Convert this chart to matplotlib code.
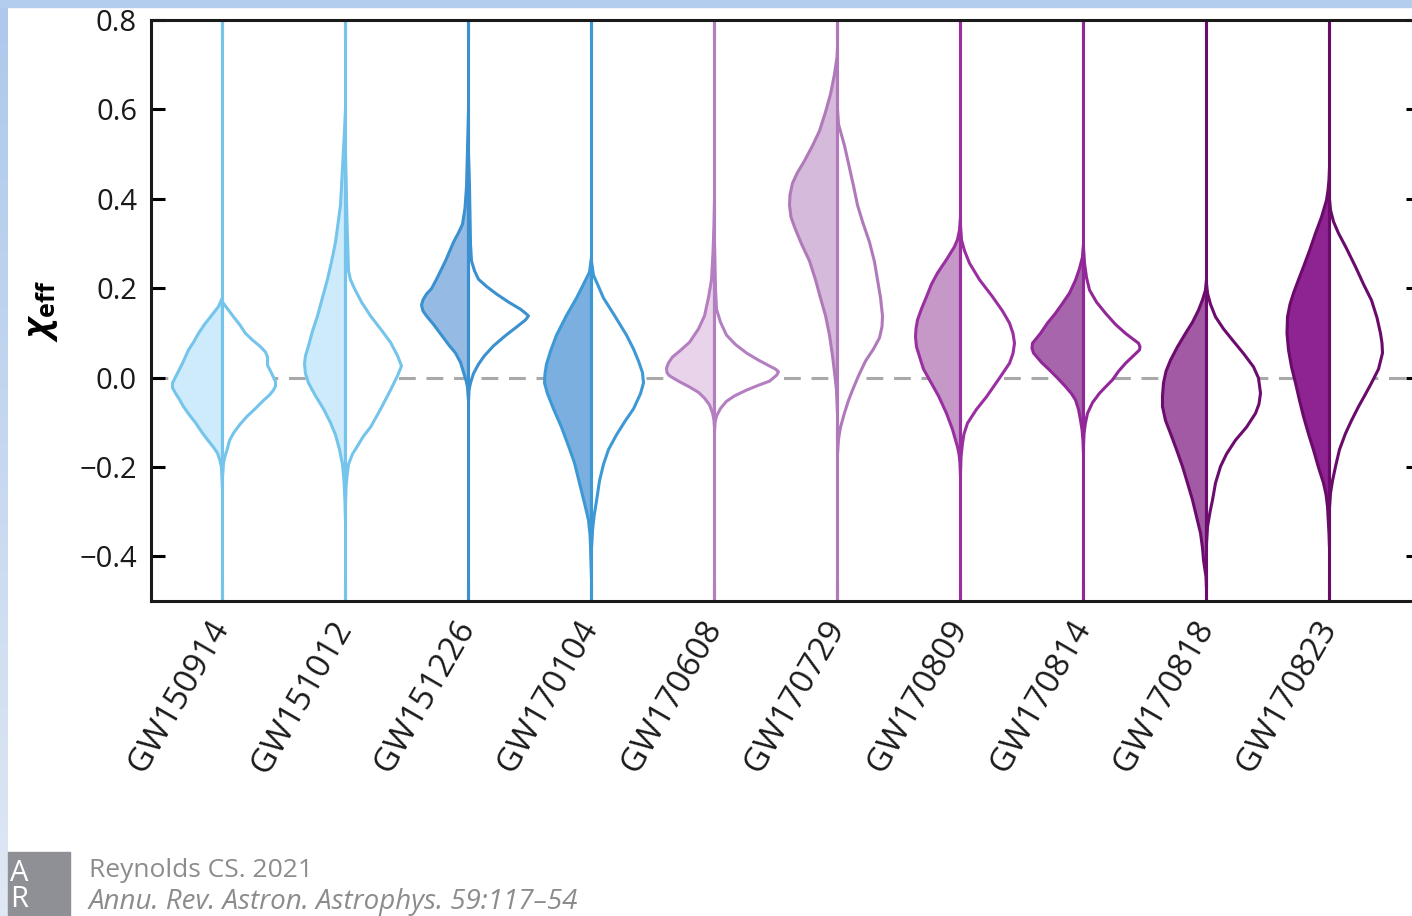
#!/usr/bin/env python3
# -*- coding: utf-8 -*-
# effective spin posteriors of the O1/O2 binary black holes, split violins
import numpy as np
import matplotlib.pyplot as plt
from matplotlib.colors import LinearSegmentedColormap
from matplotlib.patches import Rectangle

plt.rcParams['font.family'] = ['Open Sans', 'DejaVu Sans']
plt.rcParams['mathtext.fontset'] = 'custom'
plt.rcParams['mathtext.rm'] = 'Open Sans:bold'
plt.rcParams['mathtext.it'] = 'Open Sans:italic:bold'
plt.rcParams['mathtext.bf'] = 'Open Sans:bold'

events = ['GW150914', 'GW151012', 'GW151226', 'GW170104', 'GW170608',
          'GW170729', 'GW170809', 'GW170814', 'GW170818', 'GW170823']

# left (filled) half: (chi_eff, density)
fill_profiles = [
    [(0.18, 0), (0.16, 4), (0.137, 12), (0.12, 18), (0.10, 24), (0.08, 29), (0.063, 34), (0.048, 37),
     (0.033, 40), (0.011, 45), (-0.011, 50), (-0.022, 50), (-0.034, 47), (-0.048, 43), (-0.064, 39),
     (-0.08, 34), (-0.10, 27), (-0.12, 21), (-0.138, 15), (-0.155, 9), (-0.168, 5), (-0.185, 2.5),
     (-0.20, 1), (-0.25, 0)],
    [(0.60, 0), (0.553, 1), (0.47, 3), (0.387, 5), (0.304, 10), (0.26, 14), (0.221, 18), (0.18, 23),
     (0.139, 28), (0.105, 33), (0.072, 37), (0.05, 40), (0.031, 41), (0.01, 40), (-0.011, 37),
     (-0.04, 30), (-0.069, 22), (-0.10, 15), (-0.127, 10), (-0.16, 6), (-0.193, 3), (-0.23, 1.5),
     (-0.275, 0.5), (-0.32, 0)],
    [(0.60, 0), (0.553, 0.5), (0.428, 2), (0.38, 3.5), (0.344, 6), (0.325, 10), (0.304, 15), (0.262, 23),
     (0.221, 32), (0.20, 37), (0.188, 42), (0.175, 45.5), (0.163, 47), (0.15, 45.5), (0.139, 42),
     (0.12, 35), (0.096, 27), (0.075, 20), (0.056, 13), (0.035, 8), (0.013, 5), (-0.005, 2.5),
     (-0.02, 1), (-0.05, 0)],
    [(0.27, 0), (0.237, 2), (0.21, 8), (0.179, 15), (0.14, 25), (0.096, 35), (0.06, 41), (0.031, 45),
     (0.01, 46.5), (-0.011, 47), (-0.035, 44), (-0.069, 38), (-0.11, 30), (-0.152, 23), (-0.19, 17),
     (-0.235, 12), (-0.28, 7), (-0.318, 3), (-0.35, 1.5), (-0.376, 1), (-0.45, 0)],
    [(0.40, 0), (0.344, 0.5), (0.28, 1.5), (0.22, 3), (0.18, 6), (0.139, 10), (0.11, 16), (0.08, 25),
     (0.062, 34), (0.047, 42), (0.034, 46), (0.022, 48), (0.012, 47.5), (0.005, 45), (-0.007, 36),
     (-0.02, 25), (-0.032, 16), (-0.045, 10), (-0.06, 5), (-0.078, 2), (-0.094, 0.5), (-0.11, 0)],
    [(0.74, 0), (0.718, 0.5), (0.68, 3), (0.635, 7), (0.595, 12), (0.553, 18), (0.52, 25), (0.486, 33),
     (0.46, 40), (0.436, 45), (0.41, 47.5), (0.387, 48), (0.36, 46.5), (0.338, 43), (0.30, 36),
     (0.262, 28), (0.22, 22), (0.179, 17), (0.14, 12), (0.096, 8), (0.05, 5), (0.013, 3),
     (-0.027, 1), (-0.08, 0)],
    [(0.36, 0), (0.331, 1), (0.31, 3), (0.294, 6), (0.265, 14), (0.235, 23), (0.21, 29), (0.182, 34),
     (0.155, 39), (0.13, 43), (0.11, 44.5), (0.092, 45), (0.07, 44), (0.048, 41), (0.02, 37),
     (-0.004, 31), (-0.04, 22), (-0.079, 14), (-0.115, 8), (-0.154, 3), (-0.17, 1.5), (-0.19, 0.5),
     (-0.22, 0)],
    [(0.30, 0), (0.271, 1), (0.245, 4), (0.219, 8), (0.19, 14), (0.167, 21), (0.145, 28), (0.123, 36),
     (0.10, 43), (0.078, 51), (0.067, 51.5), (0.056, 50), (0.035, 42), (0.018, 34), (0.0, 26),
     (-0.019, 18), (-0.035, 12), (-0.049, 8), (-0.07, 5), (-0.094, 3), (-0.115, 1.5), (-0.139, 0.5),
     (-0.17, 0)],
    [(0.22, 0), (0.197, 1), (0.175, 4), (0.152, 8), (0.125, 14), (0.10, 21), (0.07, 29), (0.04, 36),
     (0.015, 40.5), (-0.011, 43), (-0.04, 44), (-0.064, 44), (-0.095, 41), (-0.124, 36), (-0.16, 30),
     (-0.198, 24), (-0.235, 19), (-0.273, 14), (-0.31, 10), (-0.347, 6), (-0.38, 4), (-0.407, 3),
     (-0.43, 1.5), (-0.444, 0.5), (-0.47, 0)],
    [(0.47, 0), (0.443, 0.5), (0.42, 1.5), (0.398, 3), (0.36, 8), (0.324, 14), (0.285, 20), (0.249, 26),
     (0.22, 31), (0.19, 36), (0.165, 39.5), (0.137, 42), (0.10, 42.5), (0.063, 41), (0.025, 38),
     (-0.011, 34), (-0.05, 30), (-0.086, 26), (-0.125, 21), (-0.161, 16), (-0.20, 11), (-0.235, 6),
     (-0.26, 3.5), (-0.288, 2), (-0.347, 0.5), (-0.38, 0)],
]

# right (open) half
open_profiles = [
    [(0.17, 0), (0.155, 5), (0.137, 11), (0.12, 17), (0.10, 23), (0.085, 30), (0.07, 38), (0.058, 43),
     (0.047, 45), (0.029, 45), (0.02, 47), (0.011, 49), (-0.008, 53), (-0.018, 53), (-0.027, 51),
     (-0.038, 47), (-0.05, 41), (-0.068, 33), (-0.087, 24), (-0.105, 17), (-0.123, 11), (-0.14, 7),
     (-0.161, 4.5), (-0.175, 2.5), (-0.19, 1), (-0.22, 0)],
    [(0.50, 0), (0.35, 1.5), (0.24, 3), (0.22, 5), (0.20, 9), (0.17, 16), (0.139, 25), (0.11, 35),
     (0.08, 45), (0.05, 52), (0.027, 56), (0.005, 52), (-0.027, 45), (-0.07, 35), (-0.11, 25),
     (-0.13, 18), (-0.152, 12), (-0.17, 7), (-0.193, 3), (-0.22, 1.5), (-0.244, 0.5), (-0.28, 0)],
    [(0.50, 0), (0.428, 1), (0.30, 2), (0.262, 3), (0.24, 6), (0.221, 10), (0.205, 18), (0.188, 28),
     (0.17, 40), (0.154, 52), (0.145, 57), (0.139, 60), (0.13, 57), (0.114, 48), (0.095, 37),
     (0.072, 25), (0.05, 16), (0.031, 10), (0.01, 5), (-0.011, 2), (-0.027, 0.5), (-0.05, 0)],
    [(0.26, 0), (0.23, 2), (0.21, 6), (0.179, 12), (0.14, 23), (0.096, 35), (0.065, 42), (0.038, 47),
     (0.012, 51), (-0.011, 52), (-0.035, 49), (-0.069, 42), (-0.095, 34), (-0.127, 25), (-0.16, 17),
     (-0.193, 12), (-0.23, 8), (-0.275, 5), (-0.31, 2.5), (-0.342, 1), (-0.38, 0)],
    [(0.30, 0), (0.20, 1), (0.154, 2), (0.125, 6), (0.096, 12), (0.075, 21), (0.056, 32), (0.04, 44),
     (0.027, 55), (0.02, 61), (0.014, 64), (0.006, 62), (-0.007, 55), (-0.017, 43), (-0.027, 32),
     (-0.04, 20), (-0.052, 12), (-0.068, 6), (-0.085, 2), (-0.10, 0.5), (-0.12, 0)],
    [(0.60, 0), (0.568, 1), (0.52, 7), (0.47, 12), (0.43, 16), (0.387, 20), (0.35, 25), (0.304, 32),
     (0.26, 37), (0.22, 40), (0.18, 43), (0.139, 45), (0.115, 44.5), (0.09, 42), (0.065, 36),
     (0.038, 28), (0.005, 21), (-0.027, 15), (-0.05, 11), (-0.078, 7), (-0.11, 3), (-0.137, 1),
     (-0.17, 0)],
    [(0.34, 0), (0.309, 1), (0.285, 4), (0.257, 9), (0.22, 19), (0.182, 32), (0.15, 42), (0.123, 49),
     (0.10, 52.5), (0.078, 54), (0.055, 52.5), (0.033, 49), (0.0, 39), (-0.042, 26), (-0.07, 16),
     (-0.101, 7), (-0.125, 3.5), (-0.146, 2), (-0.176, 0.5), (-0.21, 0)],
    [(0.29, 0), (0.257, 1), (0.225, 3), (0.197, 6), (0.17, 13), (0.145, 22), (0.12, 32), (0.10, 42),
     (0.088, 49), (0.078, 55), (0.07, 56.5), (0.063, 56), (0.05, 50), (0.033, 42), (0.015, 35),
     (-0.004, 29), (-0.02, 22), (-0.034, 16), (-0.055, 9), (-0.079, 4), (-0.10, 2), (-0.124, 0.5),
     (-0.15, 0)],
    [(0.21, 0), (0.19, 1), (0.165, 4), (0.137, 9), (0.11, 17), (0.085, 26), (0.055, 37), (0.025, 47),
     (0.0, 52), (-0.034, 54), (-0.058, 52.5), (-0.079, 49), (-0.11, 40), (-0.139, 29), (-0.17, 20),
     (-0.198, 14), (-0.235, 9), (-0.273, 6), (-0.30, 3.5), (-0.333, 1), (-0.37, 0)],
    [(0.40, 0), (0.376, 1), (0.35, 4), (0.324, 9), (0.29, 17), (0.249, 26), (0.21, 34), (0.174, 42),
     (0.135, 47.5), (0.10, 51), (0.078, 52.5), (0.056, 53), (0.02, 49), (-0.011, 42), (-0.04, 35),
     (-0.064, 29), (-0.095, 22), (-0.124, 16), (-0.16, 10), (-0.198, 6), (-0.23, 3), (-0.258, 1),
     (-0.29, 0)],
]

edge_colors = ['#74c4ec', '#74c4ec', '#3b90cf', '#3c99d5', '#b47fc0',
               '#b07aba', '#9a2fa0', '#92279a', '#6b0c6e', '#6a0b6b']
fill_colors = ['#cdebfa', '#cdebfa', '#95bbe5', '#7aafdf', '#e9d3ea',
               '#d6badc', '#c598c8', '#a766ab', '#a25aa5', '#8e2491']

yticks = [-0.4, -0.2, 0.0, 0.2, 0.4, 0.6, 0.8]
ytick_labels = ['\u22120.4', '\u22120.2', '0.0', '0.2', '0.4', '0.6', '0.8']

DENS_PER_UNIT = 123.0   # density value that spans one category slot


def make_stats(profile):
    y, d = (np.array(v, float) for v in zip(*profile))
    m = np.average(y, weights=d)
    return {'coords': y, 'vals': d, 'mean': m, 'median': m,
            'min': y.min(), 'max': y.max()}


def draw_half(ax, pos, profiles, side, faces):
    vp = [make_stats(p) for p in profiles]
    widths = [2 * s['vals'].max() / DENS_PER_UNIT for s in vp]
    parts = ax.violin(vp, positions=pos, widths=widths, showextrema=False, side=side)
    for body, fc, ec in zip(parts['bodies'], faces, edge_colors):
        body.set_facecolor(fc)
        body.set_edgecolor(ec)
        body.set_alpha(1)
        body.set_linewidth(2.2)
        body.set_joinstyle('round')
        body.set_zorder(2)


def draw_frame(fig):
    # light blue page border on top and left
    fig.patches.append(Rectangle((0, 1 - 7 / 916), 1, 7 / 916, transform=fig.transFigure,
                                 color='#b2cdee', zorder=0))
    bax = fig.add_axes([0, 0, 8 / 1412, 1 - 7 / 916])
    cmap = LinearSegmentedColormap.from_list('band', ['#dfe8f4', '#aec9ec'])
    bax.imshow(np.linspace(0, 1, 100)[::-1].reshape(-1, 1), cmap=cmap, aspect='auto')
    bax.axis('off')

    # journal logo and credit
    fig.patches.append(Rectangle((8 / 1412, 0), 62 / 1412, 64 / 916, transform=fig.transFigure,
                                 color='#8f9095', zorder=1))
    fig.text(10 / 1412, 1 - 914 / 916, 'A\nR', color='white', fontsize=21, ha='left',
             va='bottom', linespacing=0.85)
    fig.text(89 / 1412, 1 - 877 / 916, 'Reynolds CS. 2021', fontsize=19, color='#8c8c8c',
             va='baseline')
    fig.text(89 / 1412, 1 - 909 / 916, 'Annu. Rev. Astron. Astrophys. 59:117\u201354',
             fontsize=20, color='#8c8c8c', style='italic', va='baseline')


def main():
    fig = plt.figure(figsize=(14.12, 9.16), dpi=100)
    ax = fig.add_axes([151 / 1412, 1 - 601 / 916, (1420 - 151) / 1412, (601 - 20) / 916])
    pos = np.arange(len(events))

    ax.axhline(0, color='#a9a9a9', lw=2.2, dashes=(5.5, 3.5), zorder=1)
    draw_half(ax, pos, fill_profiles, 'low', fill_colors)
    draw_half(ax, pos, open_profiles, 'high', ['white'] * len(events))
    ax.vlines(pos, -0.5, 0.8, colors=edge_colors, lw=2.2, zorder=2.2)

    ax.set_xlim(-71 / 123, (1420 - 222) / 123)
    ax.set_ylim(-0.5, 0.8)
    ax.set_xticks(pos)
    ax.set_xticklabels(events, rotation=60, ha='right', va='center',
                       rotation_mode='anchor', fontsize=24, color='#1a1a1a')
    ax.set_yticks(yticks)
    ax.set_yticklabels(ytick_labels, fontsize=21, color='#1a1a1a')
    ax.tick_params(axis='x', direction='in', length=14, width=2.2, top=True, pad=16)
    ax.tick_params(axis='y', direction='in', length=10, width=2.2, right=True, pad=10)
    for s in ax.spines.values():
        s.set_linewidth(2.2)
        s.set_color('#1a1a1a')
    ax.spines['right'].set_visible(False)

    ax.set_ylabel(r'$\chi_{\rm eff}$', fontsize=26)
    ax.yaxis.set_label_coords(-0.072, 0.5)

    draw_frame(fig)
    fig.savefig('out.png', dpi=100, facecolor='white')


if __name__ == "__main__":
    main()
